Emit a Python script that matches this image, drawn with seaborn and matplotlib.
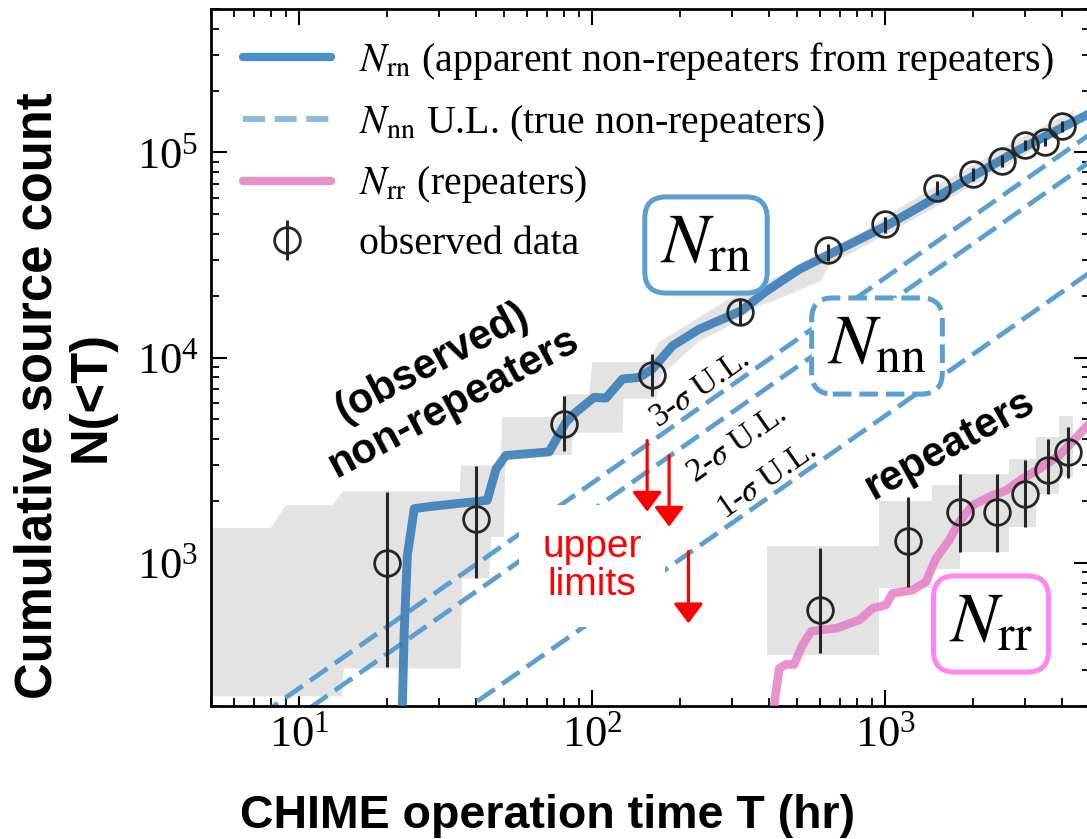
import numpy as np
import matplotlib
matplotlib.use("Agg")
import matplotlib.pyplot as plt
import seaborn as sns
from matplotlib.lines import Line2D

# ---------------- data ----------------
# apparent non-repeaters from repeaters (model curve)
nrn_T = [22.3, 22.5, 22.8, 23.4, 24.7, 27.8, 43.8, 47, 50.7, 71.3, 81.3, 87.9, 101.6, 111.4,
         126.8, 144.6, 160.6, 187.9, 231.7, 285.9, 321.9, 391.8, 508.5, 643.6, 1005, 1449,
         2040, 2865, 5000]
nrn_N = [100, 200, 443, 1087, 1833, 1875, 2012, 2866, 3327, 3467, 4832, 5408, 6397, 6340,
         7850, 8000, 8795, 11400, 13740, 15660, 16870, 21000, 26900, 31800, 43700, 58900,
         78000, 103000, 155000]

# repeaters (model curve)
nrr_T = [416, 418, 434.7, 458, 489, 522, 558, 595, 679, 815, 905, 1005, 1059, 1239, 1377,
         1490, 1653, 1789, 1986, 2323, 2581, 2941, 3356, 3928, 5000]
nrr_N = [150, 203, 305, 319, 319, 396, 461, 469, 478, 525, 598, 621, 708, 734, 807,
         1047, 1285, 1578, 1903, 2128, 2249, 2565, 2866, 3327, 4800]

# true non-repeaters upper limits (power laws, endpoints)
ul_T = [5, 5000]
ul3_N = [122, 122500]
ul2_N = [90, 90000]
ul1_N = [26, 26000]

# observed non-repeaters
obs_nr_T = [20, 40, 80, 160, 320, 640, 1000, 1500, 2000, 2500, 3000, 3500, 4000]
obs_nr_N = [1000, 1634, 4764, 8200, 16600, 33400, 45000, 67100, 78500, 91100, 109000, 112000, 133800]
obs_nr_lo = [311, 845, 3507, 6516, 14380, 29500, 40600, 62300, 72300, 84900, 102300, 107000, 125000]
obs_nr_hi = [2218, 2958, 6490, 10400, 19600, 35600, 48500, 72300, 84000, 97500, 115300, 117500, 141500]

# observed repeaters
obs_r_T = [600, 1200, 1800, 2400, 3000, 3600, 4200]
obs_r_N = [587, 1270, 1766, 1766, 2168, 2836, 3456]
obs_r_lo = [361, 757, 1128, 1128, 1493, 2168, 2585]
obs_r_hi = [1180, 2089, 2712, 2700, 3147, 4012, 4571]

# observed cumulative-count band (non-repeaters)
band_top_T = [5, 8.0, 9.0, 13.0, 14.1, 35.2, 35.7, 48.7, 49.3, 77.3, 80.3, 97.6, 100, 156, 169,
              232, 286, 372, 594, 752, 1000, 1450, 2040, 2860, 4400]
band_top_N = [1475, 1475, 1905, 1905, 2223, 2223, 2973, 2973, 5117, 5117, 6620, 6620, 9500, 9500,
              11880, 15700, 19000, 22700, 30500, 36500, 48500, 67000, 88000, 116000, 160000]
band_bot_T = [5, 14.0, 14.2, 35.6, 36.0, 44.5, 45.3, 50.0, 50.5, 85, 86, 127, 128, 165, 172,
              232, 286, 370, 420, 600, 650, 1000, 1450, 2040, 2860, 4400]
band_bot_N = [223, 223, 305, 305, 838, 838, 1334, 1334, 3350, 3350, 4300, 4300, 6300, 6300, 8200,
              12000, 14000, 17800, 19000, 23500, 28500, 39500, 53000, 71000, 93000, 140000]

# observed cumulative-count band (repeaters), step edges
rband_T = [394, 955, 1450, 1795, 2650, 3266, 3930, 4360]
rband_lo = [355, 748, 936, 1128, 1493, 2168, 2624]
rband_hi = [1208, 2000, 2377, 2712, 3208, 4090, 5188]

# upper-limit arrows
arr_T = [154, 183, 213]
arr_top = [3936, 3327, 1132]
arr_tip = [1771, 1497, 506]

# ---------------- style ----------------
sns.set_theme(style="ticks")
SERIF = ["Liberation Serif", "DejaVu Serif"]
SANS = ["Liberation Sans", "DejaVu Sans"]
plt.rcParams.update({
    "font.family": SERIF,
    "mathtext.fontset": "stix",
    "text.color": "black",
    "axes.labelcolor": "black",
    "axes.edgecolor": "black",
    "axes.linewidth": 2.0,
    "xtick.direction": "in", "ytick.direction": "in",
    "xtick.top": True, "ytick.right": True,
    "xtick.major.size": 11.5, "ytick.major.size": 11.5,
    "xtick.minor.size": 5.8, "ytick.minor.size": 5.8,
    "xtick.major.width": 1.5, "ytick.major.width": 1.5,
    "xtick.minor.width": 1.3, "ytick.minor.width": 1.3,
    "xtick.labelsize": 32, "ytick.labelsize": 32,
    "xtick.major.pad": 7, "ytick.major.pad": 9,
    "xtick.color": "black", "ytick.color": "black",
})

C_RN = "#2f78b5"
C_NN = "#5b9ecf"
C_RR = "#e377c2"
C_BOX_RR = "#ff85f0"
GRAY = "#e3e3e3"

fig = plt.figure(figsize=(10.87, 8.39), dpi=100)
ax = fig.add_axes([211 / 1087, 1 - 706 / 839, 879 / 1087, 697 / 839])
ax.set_xscale("log")
ax.set_yscale("log")

# bands
ax.fill(np.concatenate([band_top_T, band_bot_T[::-1]]),
        np.concatenate([band_top_N, band_bot_N[::-1]]),
        color=GRAY, lw=0, zorder=1)
ax.fill_between(rband_T, rband_lo + [rband_lo[-1]], rband_hi + [rband_hi[-1]],
                step="post", color=GRAY, lw=0, zorder=1)

# upper-limit dashed lines
for yv in (ul3_N, ul2_N, ul1_N):
    sns.lineplot(x=ul_T, y=yv, ax=ax, color=C_NN, linewidth=3.4,
                 estimator=None, sort=False, zorder=2)
    ax.lines[-1].set_dashes([4.5, 1.9])

# model curves
sns.lineplot(x=nrn_T, y=nrn_N, ax=ax, color=C_RN, alpha=0.85, linewidth=6.4,
             estimator=None, sort=False, zorder=3)
sns.lineplot(x=nrr_T, y=nrr_N, ax=ax, color=C_RR, alpha=0.8, linewidth=6.2,
             estimator=None, sort=False, zorder=3)

# observed data
ekw = dict(fmt="o", mfc="none", mec="#262626", ms=18.5, mew=2.0, ecolor="#262626",
           elinewidth=2.2, capsize=0, zorder=5)
eb = ax.errorbar(obs_nr_T, obs_nr_N,
                 yerr=[np.subtract(obs_nr_N, obs_nr_lo), np.subtract(obs_nr_hi, obs_nr_N)], **ekw)
ax.errorbar(obs_r_T, obs_r_N,
            yerr=[np.subtract(obs_r_N, obs_r_lo), np.subtract(obs_r_hi, obs_r_N)], **ekw)

ax.set_xlim(5, 5000)
ax.set_ylim(200, 5e5)
ax.set_xlabel("")
ax.set_ylabel("")

# arrows
for t, a, b in zip(arr_T, arr_top, arr_tip):
    ax.annotate("", xy=(t, b), xytext=(t, a),
                arrowprops=dict(arrowstyle="-|>,head_length=0.6,head_width=0.45",
                                color="red", lw=2.3, mutation_scale=20,
                                shrinkA=0, shrinkB=0), zorder=6)


def fx(px):
    return (px - 211) / 879


def fy(py):
    return (706 - py) / 697


tr = ax.transAxes
ax.text(fx(592), fy(566), "upper\nlimits", transform=tr, ha="center", va="center",
        color="red", fontsize=28, family=SANS, linespacing=1.1,
        bbox=dict(boxstyle="square,pad=0.6", fc="white", ec="none"), zorder=4)

ax.text(fx(443), fy(383), "(observed)\nnon-repeaters", transform=tr, ha="center",
        va="center", rotation=28, fontsize=30, fontweight="bold", family=SANS,
        multialignment="center", zorder=4)
ax.text(fx(949), fy(445), "repeaters", transform=tr, ha="center", va="center",
        rotation=29, fontsize=30, fontweight="bold", family=SANS, zorder=4)

for lab, (px, py) in [(r"3-$\sigma$ U.L.", (700, 389)),
                      (r"2-$\sigma$ U.L.", (737, 444)),
                      (r"1-$\sigma$ U.L.", (767, 480))]:
    ax.text(fx(px), fy(py), lab, transform=tr, ha="center", va="center", rotation=35,
            fontsize=24, family=SERIF, zorder=4)

boxkw = dict(boxstyle="round,pad=0.22,rounding_size=0.3", fc="white", lw=3.6)
ax.text(fx(706), fy(245), r"$N_{\rm rn}$", transform=tr, ha="center", va="center",
        fontsize=51, bbox=dict(ec=C_NN, **boxkw), zorder=7)
ax.text(fx(877), fy(346), r"$N_{\rm nn}$", transform=tr, ha="center", va="center",
        fontsize=51, bbox=dict(ec=C_NN, ls="--", **boxkw), zorder=7)
ax.text(fx(991), fy(624), r"$N_{\rm rr}$", transform=tr, ha="center", va="center",
        fontsize=51, bbox=dict(ec=C_BOX_RR, **boxkw), zorder=7)

# legend
handles = [Line2D([], [], color="#4a90c4", lw=6),
           Line2D([], [], color="#8fbadb", lw=4.3, ls="--"),
           Line2D([], [], color="#e892cc", lw=6),
           eb]
labels = [r"$N_{\rm rn}$ (apparent non-repeaters from repeaters)",
          r"$N_{\rm nn}$ U.L. (true non-repeaters)",
          r"$N_{\rm rr}$ (repeaters)",
          "observed data"]
ax.legend(handles, labels, loc="upper left", bbox_to_anchor=(fx(243), fy(40)),
          frameon=False, handlelength=2.2, handletextpad=0.7,
          labelspacing=0.52, borderpad=0, borderaxespad=0,
          prop={"family": SERIF, "size": 28.7})

# axis labels
fig.text(548 / 1087, 1 - 828 / 839, "CHIME operation time T (hr)", ha="center",
         va="baseline", fontsize=33.5, fontweight="bold", family=SANS, color="black")
fig.text(64.5 / 1087, 1 - 396 / 839, "Cumulative source count\nN(<T)", ha="center",
         va="center", rotation=90, fontsize=36.5, fontweight="bold", family=SANS,
         multialignment="center", linespacing=1.1, color="black")

fig.savefig("out.png", dpi=100)
